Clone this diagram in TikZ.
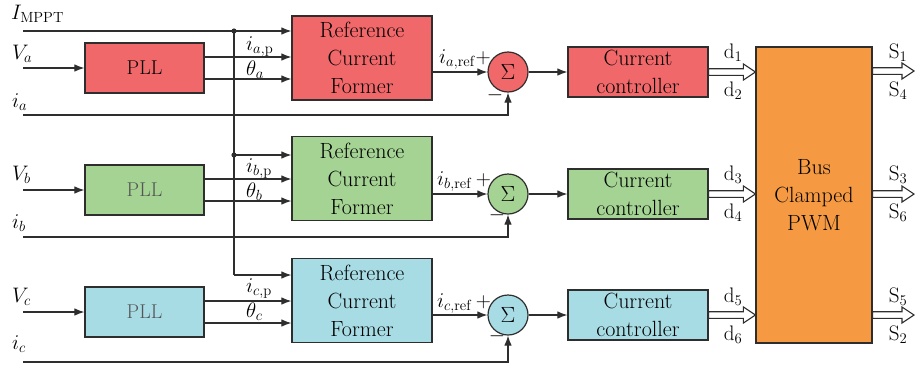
\RequirePackage{fix-cm}
\documentclass[tikz,border=0pt]{standalone}
\usetikzlibrary{arrows.meta,calc}

\definecolor{redf}{HTML}{F0686A}
\definecolor{grnf}{HTML}{A4D393}
\definecolor{cyaf}{HTML}{A8DCE5}
\definecolor{orgf}{HTML}{F59A43}
\definecolor{edge}{HTML}{2E2E2E}
\definecolor{soft}{HTML}{555555}

\newcommand\boxfont{\fontsize{22}{28}\selectfont}
\newcommand\pllfont{\fontsize{20}{22}\selectfont}
\newcommand\lblfont{\fontsize{21}{24}\selectfont}

% hollow double-line arrow from #1 to #2 (same height)
\newcommand\hollowarr[2]{%
  \draw[hol] ($#1+(0,3.3)$) -- ($#2+(-12,3.3)$) -- ($#2+(-12,8)$) -- #2
    -- ($#2+(-12,-8)$) -- ($#2+(-12,-3.3)$) -- ($#1+(0,-3.3)$) -- cycle;}

\begin{document}
\begin{tikzpicture}[x=1pt,y=-1pt,
  blk/.style={draw=edge, line width=1.2pt, inner sep=0pt, align=center, font=\boxfont},
  pll/.style={blk, minimum width=119pt, minimum height=50pt, font=\pllfont},
  rcf/.style={blk, minimum width=140pt, minimum height=84pt},
  ctl/.style={blk, minimum width=140pt, minimum height=50pt},
  sumnode/.style={circle, draw=edge, line width=1.2pt, minimum size=40pt, inner sep=0pt, font=\boxfont},
  wire/.style={draw=edge, line width=1.1pt},
  arr/.style={wire, -{Latex[length=10pt,width=7.5pt]}},
  hol/.style={draw=edge, line width=1.1pt, fill=white, line join=miter},
  lbl/.style={font=\lblfont, inner sep=0pt, anchor=base west},
  mid/.style={font=\lblfont, inner sep=0pt, anchor=center}]
\useasboundingbox (0,0) rectangle (915,370);

% ---------- blocks ----------
\node[pll, fill=redf] (plla) at (144.5,68) {PLL};
\node[pll, fill=grnf, text=soft] (pllb) at (144.5,190) {PLL};
\node[pll, fill=cyaf, text=soft] (pllc) at (144.5,312) {PLL};

\node[rcf, fill=redf] (rcfa) at (362,58) {Reference\\Current\\Former};
\node[rcf, fill=grnf] (rcfb) at (362,178.5) {Reference\\Current\\Former};
\node[rcf, fill=cyaf] (rcfc) at (362,300.5) {Reference\\Current\\Former};

\node[sumnode, fill=redf] (suma) at (508,72) {$\Sigma$};
\node[sumnode, fill=grnf] (sumb) at (508,194) {$\Sigma$};
\node[sumnode, fill=cyaf] (sumc) at (508,315) {$\Sigma$};

\node[ctl, fill=redf] (cca) at (638,72) {Current\\controller};
\node[ctl, fill=grnf] (ccb) at (638,194) {Current\\controller};
\node[ctl, fill=cyaf] (ccc) at (638,315) {Current\\controller};

\node[blk, fill=orgf, minimum width=116pt, minimum height=296pt] (pwm) at (814,195)
  {Bus\\Clamped\\PWM};

% ---------- free ends ----------
\coordinate (imp) at (23,31);
\coordinate (va) at (23,68);
\coordinate (vb) at (23,190);
\coordinate (vc) at (23,312);
\coordinate (ia) at (23,115);
\coordinate (ib) at (23,237);
\coordinate (ic) at (23,362);
\coordinate (bus1) at (234,31);
\coordinate (bus2) at (234,155);
\coordinate (bus3) at (234,275);
\coordinate (sa) at (914,71);
\coordinate (sb) at (914,194);
\coordinate (sc) at (914,315);

% ---------- MPPT reference and its bus ----------
\draw[arr] (imp) -- (imp -| rcfa.west);
\draw[wire] (bus1) -- (bus3);
\draw[arr] (bus2) -- (bus2 -| rcfb.west);
\draw[arr] (bus3) -- (bus3 -| rcfc.west);
\fill[edge] (bus1) circle (2.6pt);
\fill[edge] (bus2) circle (2.6pt);

% ---------- voltages into PLLs ----------
\draw[arr] (va) -- (plla.west);
\draw[arr] (vb) -- (pllb.west);
\draw[arr] (vc) -- (pllc.west);

% ---------- PLL outputs ----------
\foreach \p/\r in {plla/rcfa, pllb/rcfb, pllc/rcfc}{
  \draw[arr] ([yshift=11pt]\p.east) coordinate (t) -- (t -| \r.west);
  \draw[arr] ([yshift=-11pt]\p.east) coordinate (t) -- (t -| \r.west);
}

% ---------- references into summers ----------
\draw[arr] (rcfa.east |- suma.west) -- (suma.west);
\draw[arr] (rcfb.east |- sumb.west) -- (sumb.west);
\draw[arr] (rcfc.east |- sumc.west) -- (sumc.west);

% ---------- current feedback ----------
\draw[arr] (ia) -| (suma.south);
\draw[arr] (ib) -| (sumb.south);
\draw[arr] (ic) -| (sumc.south);

% ---------- errors into controllers ----------
\draw[arr] (suma.east) -- (cca.west);
\draw[arr] (sumb.east) -- (ccb.west);
\draw[arr] (sumc.east) -- (ccc.west);

% ---------- duty cycles and switching signals ----------
\hollowarr{(cca.east)}{(cca.east -| pwm.west)}
\hollowarr{(ccb.east)}{(ccb.east -| pwm.west)}
\hollowarr{(ccc.east)}{(ccc.east -| pwm.west)}
\hollowarr{(sa -| pwm.east)}{(sa)}
\hollowarr{(sb -| pwm.east)}{(sb)}
\hollowarr{(sc -| pwm.east)}{(sc)}

% ---------- labels ----------
\node[lbl] at (11,19) {$I_{\mathrm{MPPT}}$};
\node[lbl] at (12,59) {$V_a$};
\node[lbl] at (12,180) {$V_b$};
\node[lbl] at (12,302) {$V_c$};
\node[lbl] at (12,107) {$i_a$};
\node[lbl] at (12,228) {$i_b$};
\node[lbl] at (12,349) {$i_c$};

\node[lbl] at (246,50) {$i_{a,\mathrm{p}}$};
\node[lbl] at (246,75) {$\theta_a$};
\node[lbl] at (246,172) {$i_{b,\mathrm{p}}$};
\node[lbl] at (246,197) {$\theta_b$};
\node[lbl] at (246,292) {$i_{c,\mathrm{p}}$};
\node[lbl] at (246,317) {$\theta_c$};

\node[lbl] at (439,63) {$i_{a,\mathrm{ref}}{+}$};
\node[lbl] at (437,185) {$i_{b,\mathrm{ref}}\,{+}$};
\node[lbl] at (437,307) {$i_{c,\mathrm{ref}}\,{+}$};
\node[mid] at (495,95) {$-$};
\node[mid] at (497,215) {$-$};
\node[mid] at (497,336) {$-$};

\node[mid] at (733,53) {$\mathrm{d}_1$};
\node[mid] at (733,91) {$\mathrm{d}_2$};
\node[mid] at (733,175) {$\mathrm{d}_3$};
\node[mid] at (733,213) {$\mathrm{d}_4$};
\node[mid] at (733,297) {$\mathrm{d}_5$};
\node[mid] at (733,335) {$\mathrm{d}_6$};

\node[mid] at (898,53) {$\mathrm{S}_1$};
\node[mid] at (898,91) {$\mathrm{S}_4$};
\node[mid] at (898,175) {$\mathrm{S}_3$};
\node[mid] at (898,213) {$\mathrm{S}_6$};
\node[mid] at (898,297) {$\mathrm{S}_5$};
\node[mid] at (898,335) {$\mathrm{S}_2$};
\end{tikzpicture}
\end{document}
